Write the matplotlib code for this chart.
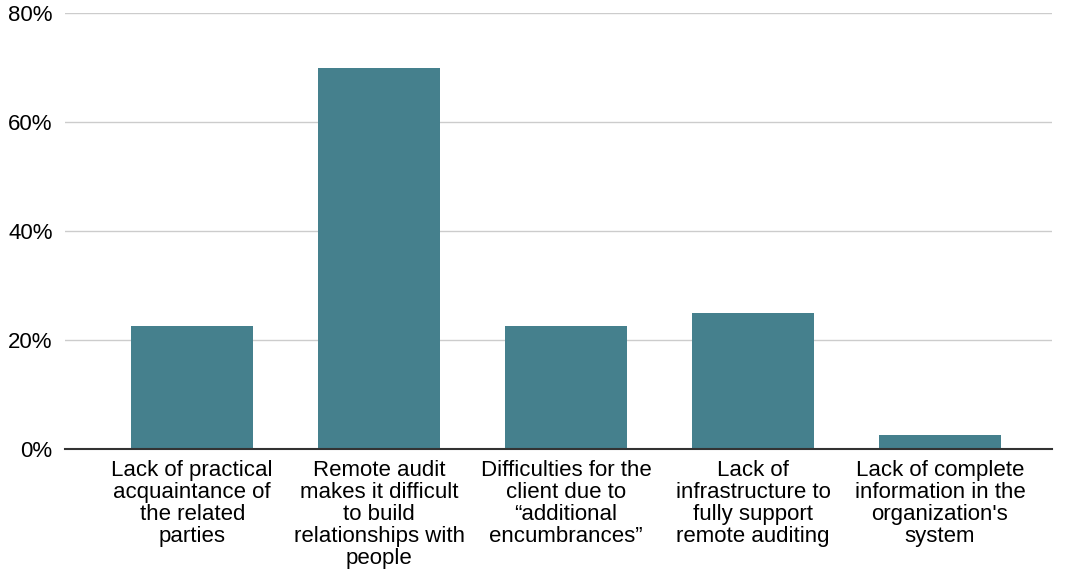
import matplotlib
matplotlib.use('Agg')
import matplotlib.pyplot as plt
from matplotlib.ticker import FuncFormatter

plt.rcParams['font.family'] = ['Liberation Sans', 'DejaVu Sans']

categories = [
    "Lack of practical\nacquaintance of\nthe related\nparties",
    "Remote audit\nmakes it difficult\nto build\nrelationships with\npeople",
    "Difficulties for the\nclient due to\n\u201cadditional\nencumbrances\u201d",
    "Lack of\ninfrastructure to\nfully support\nremote auditing",
    "Lack of complete\ninformation in the\norganization's\nsystem",
]
shares = [22.5, 70.0, 22.5, 25.0, 2.5]
yticks = [0, 20, 40, 60, 80]

fig = plt.figure(figsize=(10.67, 5.78), dpi=100)
ax = fig.add_axes([0.061, 0.2232, 0.925, 0.7543])

x = range(len(categories))
ax.bar(x, shares, width=0.65, color='#45808d', zorder=3)

ax.set_xlim(-0.68, 4.6)
ax.set_ylim(0, 80)
ax.set_yticks(yticks)
ax.yaxis.set_major_formatter(FuncFormatter(lambda v, _: f"{v:.0f}%"))
ax.set_xticks(list(x))
ax.set_xticklabels(categories, fontsize=16, linespacing=1.06, va='top')
ax.tick_params(axis='y', labelsize=16, length=0, pad=9)
ax.tick_params(axis='x', length=0, pad=8)

ax.grid(axis='y', color='#cccccc', lw=1, zorder=0)
for s in ['top', 'right', 'left']:
    ax.spines[s].set_visible(False)
ax.spines['bottom'].set_color('#333333')
ax.spines['bottom'].set_linewidth(1.5)
ax.spines['bottom'].set_zorder(4)

fig.savefig('out.png', dpi=100)
